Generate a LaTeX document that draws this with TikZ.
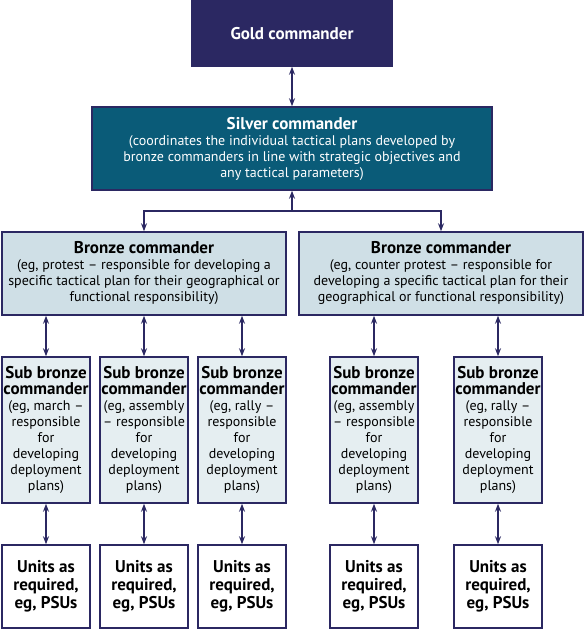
\documentclass[tikz,border=0pt]{standalone}
\usepackage{fontspec}
\setmainfont{PT Sans}
\usetikzlibrary{arrows.meta}

\definecolor{navy}{HTML}{2B2862}
\definecolor{teal}{HTML}{0A5B78}
\definecolor{bronzefill}{HTML}{CFDFE6}
\definecolor{subfill}{HTML}{E5EEF1}

\newcommand{\titlefont}{\bfseries\fontsize{17}{18}\selectfont}
\newcommand{\bodyfont}{\fontsize{14}{16}\selectfont}

\tikzset{
	box/.style={draw=navy, line width=1.5pt, inner sep=0pt, align=center, font=\bodyfont},
	goldbox/.style={box, fill=navy, text=white, minimum width=200pt, minimum height=65pt},
	silverbox/.style={box, fill=teal, text=white, minimum width=400pt, minimum height=83pt},
	bronzebox/.style={box, fill=bronzefill, minimum width=284pt, minimum height=83pt},
	subbox/.style={box, fill=subfill, minimum width=88pt, minimum height=146pt},
	unitbox/.style={box, fill=white, minimum width=88pt, minimum height=83pt, font=\titlefont},
	link/.style={draw=navy, line width=1.5pt, >={Stealth[length=8pt,width=6pt]}}
}

\begin{document}
\begin{tikzpicture}[x=1pt, y=-1pt]
	\useasboundingbox (0,0) rectangle (584,629);

	% Define gold and silver
	\node[goldbox] (Gold) at (292,33.5) {{\titlefont Gold commander}};
	\node[silverbox] (Silver) at (292,148.5) {{\titlefont Silver commander}\\(coordinates the individual tactical plans developed by\\bronze commanders in line with strategic objectives and\\any tactical parameters)};
	\coordinate (Bus) at (292,211);

	\draw[link, <->] (Gold) -- (Silver);

	% Define bronze
	\node[bronzebox] (BronzeL) at (144,273.5) {{\titlefont Bronze commander}\\(eg, protest -- responsible for developing a\\specific tactical plan for their geographical or\\functional responsibility)};
	\node[bronzebox] (BronzeR) at (441,273.5) {{\titlefont Bronze commander}\\(eg, counter protest -- responsible for\\developing a specific tactical plan for their\\geographical or functional responsibility)};

	\draw[link, ->] (Bus) -- (Silver.south);
	\draw[link, ->] (Bus) -| (BronzeL.north);
	\draw[link, ->] (Bus) -| (BronzeR.north);

	% Define sub bronze
	\node[subbox] (SubA) at (46,430) {{\titlefont Sub bronze}\\{\titlefont commander}\\(eg, march --\\responsible\\for\\developing\\deployment\\plans)};
	\node[subbox] (SubB) at (144,430) {{\titlefont Sub bronze}\\{\titlefont commander}\\(eg, assembly\\-- responsible\\for\\developing\\deployment\\plans)};
	\node[subbox] (SubC) at (242,430) {{\titlefont Sub bronze}\\{\titlefont commander}\\(eg, rally --\\responsible\\for\\developing\\deployment\\plans)};
	\node[subbox] (SubD) at (374,430) {{\titlefont Sub bronze}\\{\titlefont commander}\\(eg, assembly\\-- responsible\\for\\developing\\deployment\\plans)};
	\node[subbox] (SubE) at (498,430) {{\titlefont Sub bronze}\\{\titlefont commander}\\(eg, rally --\\responsible\\for\\developing\\deployment\\plans)};

	\draw[link, <->] (BronzeL.south -| SubA.north) -- (SubA.north);
	\draw[link, <->] (BronzeL.south -| SubB.north) -- (SubB.north);
	\draw[link, <->] (BronzeL.south -| SubC.north) -- (SubC.north);
	\draw[link, <->] (BronzeR.south -| SubD.north) -- (SubD.north);
	\draw[link, <->] (BronzeR.south -| SubE.north) -- (SubE.north);

	% Define units
	\node[unitbox] (UnitA) at (46,586.5) {Units as\\required,\\eg, PSUs};
	\node[unitbox] (UnitB) at (144,586.5) {Units as\\required,\\eg, PSUs};
	\node[unitbox] (UnitC) at (242,586.5) {Units as\\required,\\eg, PSUs};
	\node[unitbox] (UnitD) at (374,586.5) {Units as\\required,\\eg, PSUs};
	\node[unitbox] (UnitE) at (498,586.5) {Units as\\required,\\eg, PSUs};

	\draw[link, <->] (SubA) -- (UnitA);
	\draw[link, <->] (SubB) -- (UnitB);
	\draw[link, <->] (SubC) -- (UnitC);
	\draw[link, <->] (SubD) -- (UnitD);
	\draw[link, <->] (SubE) -- (UnitE);
\end{tikzpicture}
\end{document}
